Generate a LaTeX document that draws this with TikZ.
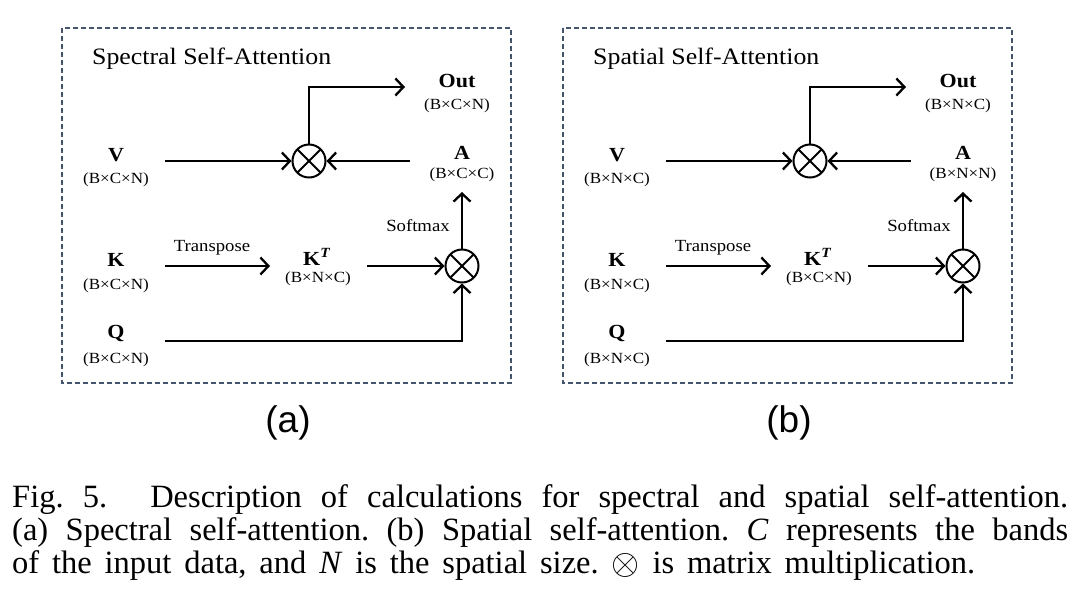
\documentclass[tikz,border=0pt]{standalone}
\usepackage{fontspec}
\setmainfont{Liberation Serif}
\newfontfamily\dfont[FakeStretch=1.1]{Liberation Serif}
\newfontfamily\capfont{Liberation Serif}
\newfontfamily\sfont{Liberation Sans}
\usetikzlibrary{arrows.meta}
\definecolor{boxcol}{RGB}{70,85,110}
\tikzset{
  lbl/.style={font=\dfont\bfseries\fontsize{20}{22}\selectfont, inner sep=0pt},
  dimlbl/.style={font=\dfont\fontsize{15.5}{18}\selectfont, inner sep=0pt},
  note/.style={font=\dfont\fontsize{17}{19}\selectfont, inner sep=0pt},
  ttl/.style={font=\dfont\fontsize{23.5}{26}\selectfont, inner sep=0pt, anchor=west},
  conn/.style={line width=2.3pt, -{Straight Barb[length=8pt,width=17pt,line width=2.3pt]}},
  mult/.style={circle, draw, line width=2pt, minimum size=33pt, inner sep=0pt,
    path picture={\draw[line width=1.8pt] (path picture bounding box.north west) -- (path picture bounding box.south east)
      (path picture bounding box.north east) -- (path picture bounding box.south west);}},
  boxst/.style={draw=boxcol, line width=2pt, dash pattern=on 5pt off 3pt},
  capline/.style={anchor=base west, inner sep=0pt, font=\capfont\fontsize{32.5}{35}\selectfont\frenchspacing}
}
% #1 suffix, #2 shift, #3 title, #4 input dim, #5 A dim, #6 KT dim
\newcommand{\drawpanel}[6]{%
\begin{scope}[xshift=#2]
  \draw[boxst] (62,28) rectangle (511,383);
  \node[ttl] (title#1) at (92,59) {#3};
  \node[lbl] (V#1) at (116,155) {V};
  \node[dimlbl] (Vd#1) at (116,180) {#4};
  \node[lbl] (K#1) at (116,260) {K};
  \node[dimlbl] (Kd#1) at (116,286) {#4};
  \node[lbl] (Q#1) at (116,333) {Q};
  \node[dimlbl] (Qd#1) at (116,360) {#4};
  \node[lbl] (Out#1) at (457,81) {Out};
  \node[dimlbl] (Outd#1) at (457,106) {#4};
  \node[lbl] (A#1) at (462,153) {A};
  \node[dimlbl] (Ad#1) at (462,175) {#5};
  \node[lbl] (KT#1) at (317,257) {K\textsuperscript{\textit{T}}};
  \node[dimlbl] (KTd#1) at (318,279) {#6};
  \node[note] (tr#1) at (212,248) {Transpose};
  \node[note] (sm#1) at (418,226) {Softmax};
  \node[mult] (m1#1) at (309,161) {};
  \node[mult] (m2#1) at (462,266) {};
  \coordinate (vs#1) at (165,161);
  \coordinate (as#1) at (410,161);
  \coordinate (oe#1) at (405,87);
  \coordinate (ks#1) at (165,266);
  \coordinate (ke#1) at (270,266);
  \coordinate (kts#1) at (367,266);
  \coordinate (ae#1) at (462,192);
  \coordinate (qs#1) at (165,341);
  \draw[conn] (vs#1) -- (m1#1);
  \draw[conn] (as#1) -- (m1#1);
  \draw[conn] (m1#1.north) |- (oe#1);
  \draw[conn] (ks#1) -- (ke#1);
  \draw[conn] (kts#1) -- (m2#1);
  \draw[conn] (m2#1.north) -- (ae#1);
  \draw[conn] (qs#1) -| (m2#1.south);
\end{scope}}
\begin{document}
\begin{tikzpicture}[x=1pt,y=-1pt]
\fill[white] (0,0) rectangle (1080,600);
\useasboundingbox (0,0) rectangle (1080,600);
\drawpanel{a}{0pt}{Spectral Self-Attention}{(B×C×N)}{(B×C×C)}{(B×N×C)}
\drawpanel{b}{501pt}{Spatial Self-Attention}{(B×N×C)}{(B×N×N)}{(B×C×N)}
\node[font=\sfont\fontsize{37}{40}\selectfont, inner sep=0pt] (suba) at (288,423) {(a)};
\node[font=\sfont\fontsize{37}{40}\selectfont, inner sep=0pt] (subb) at (789,423) {(b)};
\node[capline] (cap1) at (12,507) {\makebox[1056pt][s]{Fig. 5.\hspace*{24pt} Description of calculations for spectral and spatial self-attention.}};
\node[capline] (cap2) at (12,540) {\makebox[1056pt][s]{(a) Spectral self-attention. (b) Spatial self-attention. \textit{C} represents the bands}};
\node[capline] (cap3) at (12,573) {\makebox[963pt][s]{of the input data, and \textit{N} is the spatial size. \raisebox{-1pt}{\scalebox{1.45}{$\otimes$}} is matrix multiplication.}};
\end{tikzpicture}
\end{document}
